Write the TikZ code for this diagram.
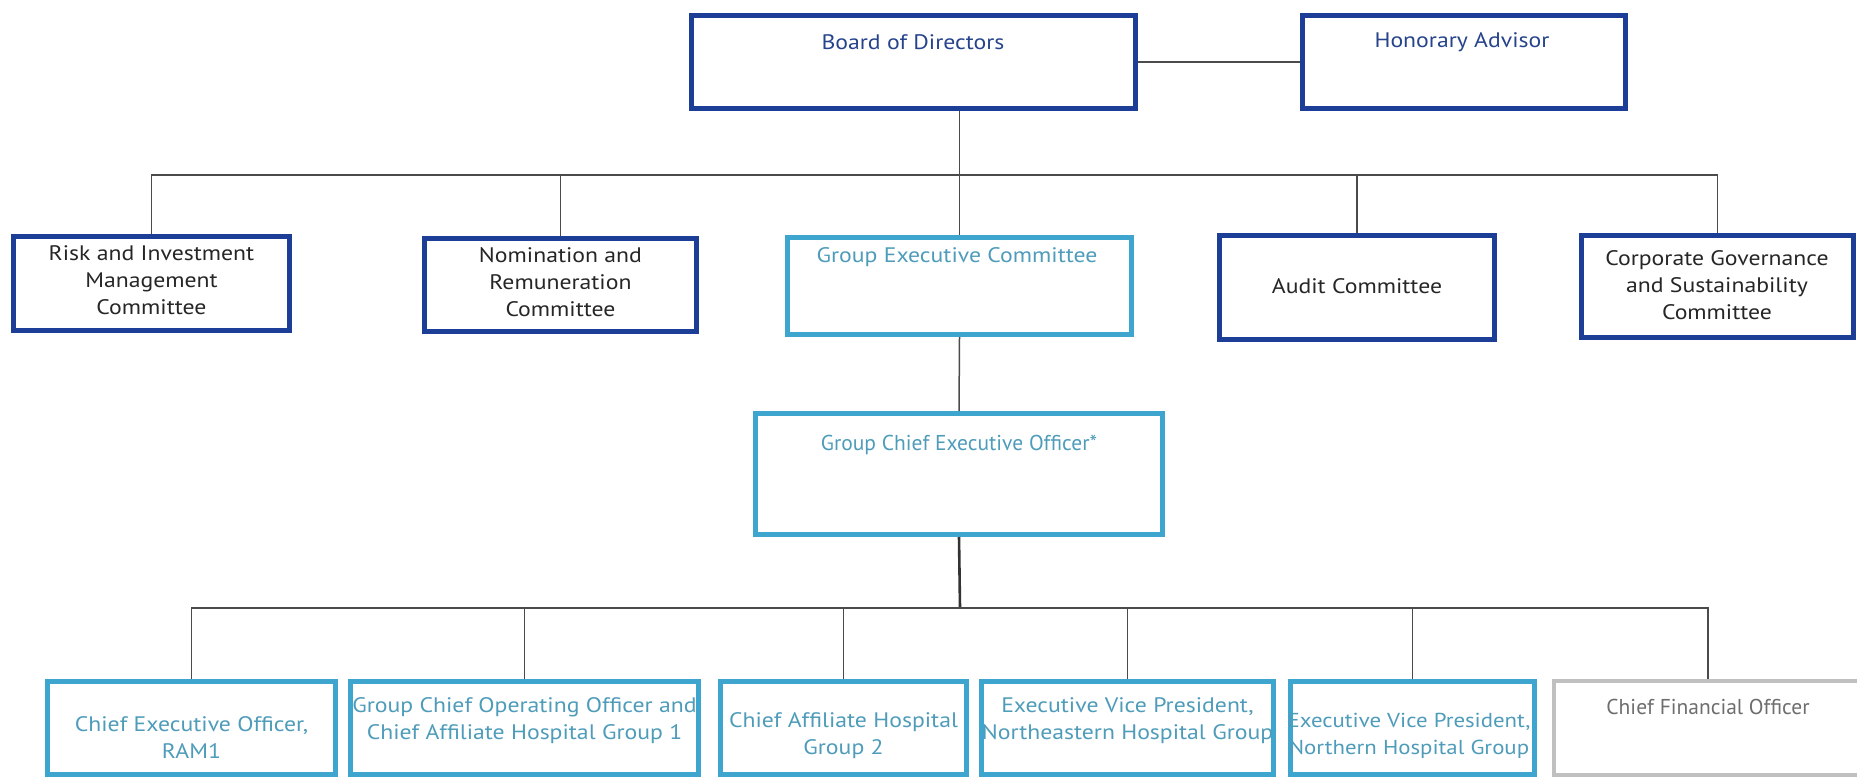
\documentclass[tikz,border=0pt]{standalone}
\usepackage{fontspec}
\setmainfont[FakeStretch=1.13]{PT Sans}
\newfontfamily\plainf{PT Sans}
\definecolor{dblue}{RGB}{28,62,150}
\definecolor{dbtext}{RGB}{38,68,140}
\definecolor{lblue}{RGB}{62,166,206}
\definecolor{lbtext}{RGB}{78,156,186}
\definecolor{gborder}{RGB}{192,192,192}
\definecolor{gtext}{RGB}{110,110,110}
\definecolor{lineC}{RGB}{75,75,75}
\begin{document}
\begin{tikzpicture}[x=1pt,y=-1pt,
  box/.style={rectangle, line width=5pt, fill=white, inner sep=0pt},
  dbox/.style={box, draw=dblue},
  lbox/.style={box, draw=lblue},
  gbox/.style={box, draw=gborder, line width=4pt},
  txt/.style={align=center, font=\fontsize{21}{27}\selectfont, inner sep=0pt, text=black!85},
  ptxt/.style={txt, font=\plainf\fontsize{21.5}{27}\selectfont},
  dtxt/.style={txt, text=dbtext},
  ltxt/.style={txt, text=lbtext},
  gtxt/.style={ptxt, text=gtext},
  conn/.style={draw=lineC, line width=1.5pt},
  thick conn/.style={draw=black!80, line width=2.6pt}]
\useasboundingbox (0,0) rectangle (1857,778);
\clip (0,0) rectangle (1857,778);

% top level
\node[dbox, minimum width=444pt, minimum height=93pt] (board) at (913.5,62) {};
\node[dbox, minimum width=323pt, minimum height=93pt] (hon) at (1464,62) {};
\node[dtxt] (boardT) at (913,42) {Board of Directors};
\node[dtxt] (honT) at (1462,42) {Honorary Advisor};

% committees
\node[dbox, minimum width=276pt, minimum height=94pt] (risk) at (151.5,283.5) {};
\node[txt] (riskT) at (151.5,280) {Risk and Investment\\Management\\Committee};
\node[dbox, minimum width=272pt, minimum height=93pt] (nom) at (560.5,285) {};
\node[txt] (nomT) at (560.5,282) {Nomination and\\Remuneration\\Committee};
\node[lbox, minimum width=344pt, minimum height=97pt] (gec) at (959.5,286) {};
\node[ltxt] (gecT) at (957,257) {Group Executive Committee};
\node[dbox, minimum width=275pt, minimum height=104pt] (audit) at (1357,287.5) {};
\node[txt] (auditT) at (1357,286) {Audit Committee};
\node[dbox, minimum width=272pt, minimum height=102pt] (corp) at (1717.5,286.5) {};
\node[txt] (corpT) at (1717,285) {Corporate Governance\\and Sustainability\\Committee};

% GCEO
\node[lbox, minimum width=407pt, minimum height=121pt] (gceo) at (959,474) {};
\node[ptxt, text=lbtext] (gceoT) at (959,445) {Group Chief Executive Officer*};

% bottom row
\node[lbox, minimum width=288pt, minimum height=93pt] (ceo) at (191.5,727.5) {};
\node[ltxt] (ceoT) at (191.5,738) {Chief Executive Officer,\\RAM1};
\node[lbox, minimum width=348pt, minimum height=93pt] (gcoo) at (524.5,727.5) {};
\node[ltxt] (gcooT) at (524.5,721) {Group Chief Operating Officer and\\Chief Affiliate Hospital Group 1};
\node[lbox, minimum width=246pt, minimum height=93pt] (cahg) at (843.5,727.5) {};
\node[ltxt] (cahgT) at (843.5,736) {Chief Affiliate Hospital\\Group 2};
\node[lbox, minimum width=292pt, minimum height=93pt] (evpne) at (1127.5,727.5) {};
\node[ltxt] (evpneT) at (1127.5,721) {Executive Vice President,\\Northeastern Hospital Group};
\node[lbox, minimum width=244pt, minimum height=93pt] (evpn) at (1412.5,727.5) {};
\node[ltxt, font=\fontsize{20.2}{27}\selectfont] (evpnT) at (1409,736) {Executive Vice President,\\Northern Hospital Group};
\node[gbox, minimum width=308pt, minimum height=94pt] (cfo) at (1708,727.5) {};
\node[gtxt] (cfoT) at (1708,707) {Chief Financial Officer};

% connectors
\coordinate (tb) at (961,175);
\coordinate (bb) at (960,608);
\draw[conn] (board.east) -- (hon.west);
\draw[conn] (board.south -| gec.north) -- (gec.north);
\draw[conn] (risk.north) |- (corp.north |- tb) -- (corp.north);
\draw[conn] (nom.north) -- (nom.north |- tb);
\draw[conn] (audit.north) -- (audit.north |- tb);
\draw[conn] (gec.south) -- (gceo.north);
\draw[thick conn] (gceo.south) -- (bb);
\draw[conn] (ceo.north) |- (cfo.north |- bb) -- (cfo.north);
\draw[conn] (gcoo.north) -- (gcoo.north |- bb);
\draw[conn] (cahg.north) -- (cahg.north |- bb);
\draw[conn] (evpne.north) -- (evpne.north |- bb);
\draw[conn] (evpn.north) -- (evpn.north |- bb);
\end{tikzpicture}
\end{document}
